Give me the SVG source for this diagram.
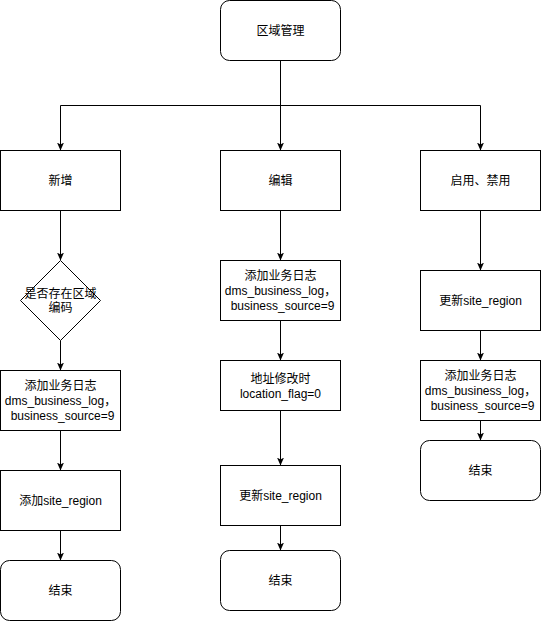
<svg xmlns="http://www.w3.org/2000/svg" width="541" height="621" viewBox="0 0 541 621">
<defs>
<style>
.box{fill:#fff;stroke:#000;stroke-width:1}
.t{font-family:"Liberation Sans","Noto Sans CJK SC",sans-serif;font-size:12px;fill:#000;text-anchor:middle;dominant-baseline:central}
.e{fill:none;stroke:#000;stroke-width:1;marker-end:url(#arr)}
</style>
<marker id="arr" viewBox="0 0 8 8" refX="7.5" refY="4" markerWidth="8" markerHeight="8" markerUnits="userSpaceOnUse" orient="auto">
<path d="M0,0.5 L8,4 L0,7.5 L2,4 Z" fill="#000"/>
</marker>
</defs>
<rect width="541" height="621" fill="#fff"/>
<g id="connectors">
<path class="e" d="M280.5,60.5 V150"/>
<path class="e" d="M280.5,60.5 V105.5 H60.5 V150"/>
<path class="e" d="M280.5,60.5 V105.5 H480.5 V150"/>
<path class="e" d="M60.5,210.5 V260"/>
<path class="e" d="M60.5,340.5 V370"/>
<path class="e" d="M60.5,430.5 V470"/>
<path class="e" d="M60.5,530.5 V560"/>
<path class="e" d="M280.5,210.5 V260"/>
<path class="e" d="M280.5,320.5 V360"/>
<path class="e" d="M280.5,410.5 V465"/>
<path class="e" d="M280.5,525.5 V550"/>
<path class="e" d="M480.5,210.5 V270"/>
<path class="e" d="M480.5,330.5 V360"/>
<path class="e" d="M480.5,420.5 V440"/>
</g>
<g id="n-root"><rect class="box" x="220.5" y="0.5" width="120" height="60" rx="9"/><text class="t" x="280.5" y="30.5">区域管理</text></g>
<g id="n-add"><rect class="box" x="0.5" y="150.5" width="120" height="60"/><text class="t" x="60.5" y="180.5">新增</text></g>
<g id="n-edit"><rect class="box" x="220.5" y="150.5" width="120" height="60"/><text class="t" x="280.5" y="180.5">编辑</text></g>
<g id="n-toggle"><rect class="box" x="420.5" y="150.5" width="120" height="60"/><text class="t" x="480.5" y="180.5">启用、禁用</text></g>
<g id="n-dec"><path class="box" d="M60.5,260.5 L100.5,300.5 L60.5,340.5 L20.5,300.5 Z"/><text class="t" x="60.5" y="293.5">是否存在区域</text><text class="t" x="60.5" y="307.5">编码</text></g>
<g id="n-log1"><rect class="box" x="0.5" y="370.5" width="120" height="60"/><text class="t" x="60.5" y="385.5">添加业务日志</text><text class="t" x="60.5" y="400.5">dms_business_log，</text><text class="t" x="62.5" y="415.5">business_source=9</text></g>
<g id="n-addsite"><rect class="box" x="0.5" y="470.5" width="120" height="60"/><text class="t" x="60.5" y="500.5">添加site_region</text></g>
<g id="n-end1"><rect class="box" x="0.5" y="560.5" width="120" height="60" rx="9"/><text class="t" x="60.5" y="590.5">结束</text></g>
<g id="n-log2"><rect class="box" x="220.5" y="260.5" width="120" height="60"/><text class="t" x="280.5" y="275.5">添加业务日志</text><text class="t" x="280.5" y="290.5">dms_business_log，</text><text class="t" x="282.5" y="305.5">business_source=9</text></g>
<g id="n-loc"><rect class="box" x="220.5" y="360.5" width="120" height="50"/><text class="t" x="280.5" y="378.5">地址修改时</text><text class="t" x="280.5" y="393.5">location_flag=0</text></g>
<g id="n-upd2"><rect class="box" x="220.5" y="465.5" width="120" height="60"/><text class="t" x="280.5" y="495.5">更新site_region</text></g>
<g id="n-end2"><rect class="box" x="220.5" y="550.5" width="120" height="60" rx="9"/><text class="t" x="280.5" y="580.5">结束</text></g>
<g id="n-upd3"><rect class="box" x="420.5" y="270.5" width="120" height="60"/><text class="t" x="480.5" y="300.5">更新site_region</text></g>
<g id="n-log3"><rect class="box" x="420.5" y="360.5" width="120" height="60"/><text class="t" x="480.5" y="375.5">添加业务日志</text><text class="t" x="480.5" y="390.5">dms_business_log，</text><text class="t" x="482.5" y="405.5">business_source=9</text></g>
<g id="n-end3"><rect class="box" x="420.5" y="440.5" width="120" height="60" rx="9"/><text class="t" x="480.5" y="470.5">结束</text></g>
</svg>
